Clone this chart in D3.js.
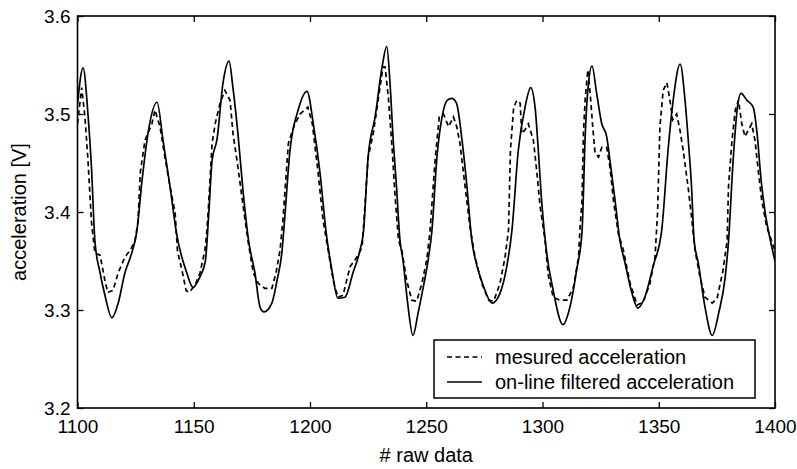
<!DOCTYPE html>
<html>
<head>
<meta charset="utf-8">
<script src="https://cdn.jsdelivr.net/npm/d3@7"></script>
<style>
  body { margin: 0; background: #fff; }
  svg text { font-family: "Liberation Sans", Arial, sans-serif; fill: #000; }
</style>
</head>
<body>
<svg id="chart" width="797" height="469"></svg>
<script>
// data (sample index, volts)
const xTicks = [1100, 1150, 1200, 1250, 1300, 1350, 1400]
const yTicks = [3.2, 3.3, 3.4, 3.5, 3.6]

const filteredX = [1100, 1102.4, 1104.5, 1106, 1107.5, 1109.7, 1111.8, 1114.8, 1117.5, 1120.4, 1123.3, 1125.5,
  1127.8, 1130.3, 1134.2, 1136.8, 1139.8, 1142.6, 1147, 1149.7, 1152.7, 1155, 1156.5, 1157.9, 1160, 1162.6,
  1165.2, 1166.8, 1169, 1171.3, 1173.5, 1176.3, 1178.5, 1180.2, 1183.6, 1185.8, 1188, 1189, 1191.4, 1194.9,
  1198.7, 1201.6, 1204.3, 1207, 1209.4, 1212, 1215, 1218.5, 1221.5, 1223, 1225, 1228, 1231, 1233, 1234.4,
  1235.8, 1237.2, 1238.7, 1240, 1242, 1244.3, 1246.5, 1248.7, 1251, 1252.4, 1254.6, 1256.8, 1259, 1261, 1263,
  1265.4, 1267.5, 1269.6, 1271.8, 1274.5, 1278.3, 1281.7, 1284.6, 1286.8, 1289.6, 1292.5, 1294.9, 1296.8,
  1298.2, 1299.6, 1301.7, 1304.6, 1308.8, 1311.8, 1314.7, 1317, 1318.4, 1319.8, 1321.3, 1323.3, 1325.5,
  1327.6, 1329, 1331.2, 1333.3, 1335.5, 1338.5, 1341, 1344, 1347.5, 1351.3, 1354, 1356.2, 1359.2, 1361.3,
  1362.7, 1364.1, 1365.2, 1367, 1369.9, 1373, 1375.8, 1378.6, 1380, 1382, 1383.7, 1385.4, 1387.9, 1390.6,
  1392.3, 1394, 1395.8, 1398, 1400]
const filteredY = [3.51, 3.547, 3.50, 3.446, 3.37, 3.338, 3.315, 3.292, 3.307, 3.338, 3.358, 3.38,
  3.433, 3.48, 3.512, 3.473, 3.426, 3.378, 3.338, 3.323, 3.334, 3.35, 3.40, 3.453, 3.474, 3.532,
  3.554, 3.528, 3.48, 3.419, 3.372, 3.338, 3.303, 3.298, 3.307, 3.33, 3.361, 3.39, 3.463, 3.504,
  3.523, 3.487, 3.44, 3.378, 3.341, 3.312, 3.313, 3.338, 3.361, 3.38, 3.456, 3.497, 3.548, 3.569, 3.532,
  3.473, 3.426, 3.371, 3.351, 3.307, 3.274, 3.297, 3.323, 3.354, 3.38, 3.456, 3.497, 3.514, 3.516, 3.511,
  3.473, 3.426, 3.371, 3.345, 3.325, 3.307, 3.317, 3.344, 3.38, 3.463, 3.507, 3.527, 3.507,
  3.463, 3.412, 3.36, 3.32, 3.285, 3.303, 3.341, 3.38, 3.48, 3.532, 3.549, 3.521, 3.49,
  3.477, 3.453, 3.412, 3.371, 3.348, 3.317, 3.302, 3.313, 3.344, 3.382, 3.463, 3.514, 3.551, 3.514,
  3.473, 3.426, 3.371, 3.348, 3.303, 3.274, 3.297, 3.334, 3.37, 3.453, 3.504, 3.521, 3.514, 3.507,
  3.48, 3.433, 3.399, 3.371, 3.35]

const measuredX = [1100, 1101.8, 1103.2, 1104.5, 1106, 1107.5, 1109.7, 1111.8, 1113, 1115.3, 1117.5, 1120.4,
  1122.6, 1124.7, 1126, 1127, 1129, 1132, 1133.3, 1135.5, 1137.6, 1139.8, 1142, 1143, 1144.9, 1146.7, 1148,
  1150.5, 1152.7, 1154.8, 1155.6, 1156.2, 1157.9, 1159.2, 1161.3, 1163.4, 1165.6, 1166.9, 1169, 1171.3,
  1173.5, 1175.6, 1177.8, 1180.6, 1183.6, 1185.4, 1187.1, 1188.3, 1190.7, 1193, 1195.7, 1199.1, 1201,
  1203.5, 1205.6, 1207.8, 1210, 1212, 1214.2, 1217.2, 1220.2, 1222.4, 1223.6, 1225, 1227.2, 1229.3, 1231.4,
  1232.3, 1233.7, 1235.3, 1236.7, 1238.1, 1239.5, 1241.6, 1243.8, 1245.9, 1248.1, 1250.2, 1251.6, 1253.8,
  1255.6, 1257.4, 1259.6, 1261.7, 1263.1, 1264.5, 1266.7, 1268.8, 1271, 1273.9, 1276.8, 1279, 1281.7,
  1283.9, 1285.4, 1286.2, 1287.6, 1289, 1290.4, 1291.1, 1292.5, 1293.9, 1296.1, 1297.6, 1299, 1301.1,
  1302.5, 1304.6, 1307.5, 1310.5, 1313.3, 1315.5, 1316.1, 1317, 1317.6, 1318.4, 1319.5, 1320.5, 1321.6,
  1322.6, 1324.1, 1325.5, 1327.6, 1329, 1330.5, 1332.6, 1334.8, 1337.7, 1340.7, 1343.3, 1346.2, 1348.4,
  1349.5, 1350.5, 1351.9, 1353.5, 1354.8, 1356, 1357.7, 1359.1, 1360.5, 1362.6, 1364.1, 1365.6, 1367.7,
  1369.9, 1373, 1375.1, 1377.7, 1379.4, 1380, 1381.5, 1382.9, 1384.3, 1385.7, 1387.1, 1388.6, 1390,
  1391.4, 1392.9, 1394.3, 1396.4, 1398.5, 1400]
const measuredY = [3.49, 3.527, 3.497, 3.453, 3.39, 3.358, 3.356, 3.33, 3.318, 3.32, 3.338, 3.354,
  3.361, 3.37, 3.39, 3.44, 3.473, 3.49, 3.504, 3.487, 3.456, 3.426, 3.399, 3.36, 3.341, 3.32, 3.318,
  3.325, 3.338, 3.361, 3.38, 3.40, 3.47, 3.49, 3.511, 3.524, 3.514, 3.48, 3.446, 3.405,
  3.368, 3.338, 3.327, 3.322, 3.322, 3.338, 3.361, 3.39, 3.47, 3.487, 3.50, 3.507, 3.49,
  3.44, 3.392, 3.361, 3.33, 3.313, 3.315, 3.344, 3.354, 3.364, 3.405, 3.456, 3.48, 3.514, 3.548,
  3.548, 3.517, 3.466, 3.412, 3.371, 3.361, 3.33, 3.31, 3.309, 3.327, 3.351, 3.38, 3.453,
  3.497, 3.50, 3.487, 3.497, 3.487, 3.47, 3.426, 3.385, 3.354, 3.327, 3.31, 3.309, 3.327,
  3.354, 3.382, 3.463, 3.507, 3.514, 3.511, 3.48, 3.484, 3.49, 3.473, 3.44, 3.405, 3.371,
  3.335, 3.313, 3.31, 3.31, 3.323, 3.354, 3.382, 3.412, 3.48, 3.517, 3.545, 3.521, 3.487,
  3.46, 3.456, 3.466, 3.466, 3.446, 3.412, 3.378, 3.361, 3.327, 3.305, 3.308, 3.327, 3.354,
  3.40, 3.487, 3.524, 3.532, 3.514, 3.494, 3.50, 3.484, 3.463, 3.426, 3.395, 3.361, 3.334,
  3.313, 3.307, 3.312, 3.341, 3.371, 3.426, 3.473, 3.504, 3.514, 3.49, 3.477, 3.484, 3.49,
  3.473, 3.44, 3.412, 3.385, 3.371, 3.36]

const seriesNames = ["mesured acceleration", "on-line filtered acceleration"]

const plotLeft = 77.5, plotRight = 775, plotTop = 16, plotBottom = 408

const svg = d3.select("#chart")

const x = d3.scaleLinear().domain([1100, 1400]).range([plotLeft, plotRight])
const y = d3.scaleLinear().domain([3.2, 3.6]).range([plotBottom, plotTop])

svg.append("clipPath").attr("id", "clip")
  .append("rect")
  .attr("x", plotLeft).attr("y", plotTop)
  .attr("width", plotRight - plotLeft).attr("height", plotBottom - plotTop)

const plot = svg.append("g").attr("clip-path", "url(#clip)")

const measured = measuredX.map((v, i) => [v, measuredY[i]])
const filtered = filteredX.map((v, i) => [v, filteredY[i]])

plot.append("path")
  .datum(measured)
  .attr("fill", "none")
  .attr("stroke", "#000")
  .attr("stroke-width", 1.7)
  .attr("stroke-dasharray", "5,3.5")
  .attr("d", d3.line().x(d => x(d[0])).y(d => y(d[1])).curve(d3.curveLinear))

plot.append("path")
  .datum(filtered)
  .attr("fill", "none")
  .attr("stroke", "#000")
  .attr("stroke-width", 1.7)
  .attr("d", d3.line().x(d => x(d[0])).y(d => y(d[1])).curve(d3.curveMonotoneX))

// axes, ticks pointing inward like matlab
const fmtY = d3.format(".1f")

svg.append("g")
  .attr("transform", `translate(0,${plotBottom})`)
  .call(d3.axisBottom(x).tickValues(xTicks).tickSizeInner(-6).tickSizeOuter(0).tickPadding(12).tickFormat(d3.format("d")))
svg.append("g")
  .attr("transform", `translate(0,${plotTop})`)
  .call(d3.axisTop(x).tickValues(xTicks).tickSizeInner(-6).tickSizeOuter(0).tickFormat(""))
svg.append("g")
  .attr("transform", `translate(${plotLeft},0)`)
  .call(d3.axisLeft(y).tickValues(yTicks).tickSizeInner(-6).tickSizeOuter(0).tickPadding(7).tickFormat(fmtY))
svg.append("g")
  .attr("transform", `translate(${plotRight},0)`)
  .call(d3.axisRight(y).tickValues(yTicks).tickSizeInner(-6).tickSizeOuter(0).tickFormat(""))

svg.selectAll(".domain").remove()
svg.selectAll(".tick line").attr("stroke", "#000").attr("stroke-width", 1.3)
svg.selectAll(".tick text")
  .style("font-family", '"Liberation Sans", Arial, sans-serif')
  .style("font-size", "19px")
  .attr("fill", "#000")

svg.append("rect")
  .attr("x", plotLeft).attr("y", plotTop)
  .attr("width", plotRight - plotLeft).attr("height", plotBottom - plotTop)
  .attr("fill", "none")
  .attr("stroke", "#000")
  .attr("stroke-width", 1.6)

// labels
svg.append("text")
  .attr("x", (plotLeft + plotRight) / 2)
  .attr("y", 462)
  .attr("text-anchor", "middle")
  .style("font-size", "20px")
  .text("# raw data")

svg.append("text")
  .attr("transform", `translate(26,${(plotTop + plotBottom) / 2}) rotate(-90)`)
  .attr("text-anchor", "middle")
  .style("font-size", "20px")
  .text("acceleration [V]")

// legend
const lg = svg.append("g")
lg.append("rect")
  .attr("x", 434).attr("y", 340)
  .attr("width", 321).attr("height", 58)
  .attr("fill", "#fff")
  .attr("stroke", "#000")
  .attr("stroke-width", 1.5)

seriesNames.forEach((name, i) => {
  const yy = 357 + i * 25
  lg.append("line")
    .attr("x1", 447).attr("x2", 482)
    .attr("y1", yy).attr("y2", yy)
    .attr("stroke", "#000")
    .attr("stroke-width", 1.5)
    .attr("stroke-dasharray", i === 0 ? "5,3.5" : null)
  lg.append("text")
    .attr("x", 495)
    .attr("y", yy + 7)
    .style("font-size", "20px")
    .text(name)
})
</script>
</body>
</html>
